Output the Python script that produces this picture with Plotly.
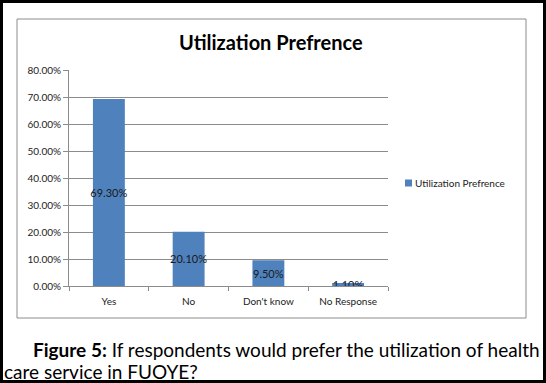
import plotly.graph_objects as go

categories = ["Yes", "No", "Don't know", "No Response"]
values = [69.30, 20.10, 9.50, 1.10]
labels = [f"{v:.2f}%" for v in values]
tick_vals = [0, 10, 20, 30, 40, 50, 60, 70, 80]
tick_text = [f"{v:.2f}%" for v in tick_vals]
series_name = "Utilization Prefrence"
chart_title = "Utilization Prefrence"
caption1 = "<b>Figure 5:</b> If respondents would prefer the utilization of health"
caption2 = "care service in FUOYE?"

W, H = 546, 383
L, R, T, B = 69, 158, 70, 97
PW, PH = W - L - R, H - T - B
BAR_COLOR = "#4F81BD"

def px(x):
    return (x - L) / PW

def py(y):
    return (H - B - y) / PH

FONT = "Lato"

fig = go.Figure()
fig.add_trace(go.Bar(
    x=categories, y=values, name=series_name,
    marker=dict(color=BAR_COLOR, line=dict(width=0)),
    text=labels, textposition="inside", insidetextanchor="middle",
    textangle=0,
    textfont=dict(family=FONT, size=11, color="#1a1a1a"),
    constraintext="none", width=0.4, showlegend=False,
))

shapes = [
    dict(type="rect", xref="paper", yref="paper",
         x0=px(17), x1=px(526), y0=py(318), y1=py(19),
         line=dict(color="#8c8c8c", width=1), fillcolor="rgba(0,0,0,0)", layer="below"),
    dict(type="rect", xref="paper", yref="paper",
         x0=px(1.5), x1=px(544.5), y0=py(381.5), y1=py(1.5),
         line=dict(color="black", width=3), fillcolor="rgba(0,0,0,0)"),
    # legend key
    dict(type="rect", xref="paper", yref="paper",
         x0=px(405), x1=px(412), y0=py(186.5), y1=py(179.5),
         line=dict(width=0), fillcolor=BAR_COLOR),
]

annotations = [
    dict(text="<b>" + chart_title + "</b>", xref="paper", yref="paper", x=px(271), y=py(42),
         xanchor="center", yanchor="middle", showarrow=False,
         font=dict(family=FONT, size=20, color="black")),
    dict(text=series_name, xref="paper", yref="paper", x=px(413), y=py(183),
         xanchor="left", yanchor="middle", showarrow=False,
         font=dict(family=FONT, size=10, color="#222")),
    dict(text=caption1, xref="paper", yref="paper", x=px(31), y=py(349),
         xanchor="left", yanchor="middle", showarrow=False,
         font=dict(family=FONT, size=19, color="black")),
    dict(text=caption2, xref="paper", yref="paper", x=px(2), y=py(371),
         xanchor="left", yanchor="middle", showarrow=False,
         font=dict(family=FONT, size=19, color="black")),
]

fig.update_layout(
    width=W, height=H,
    margin=dict(l=L, r=R, t=T, b=B, pad=0),
    paper_bgcolor="white", plot_bgcolor="white",
    showlegend=False,
    shapes=shapes, annotations=annotations,
)
fig.update_xaxes(
    showline=True, linecolor="#8c8c8c", linewidth=1,
    ticks="outside", tickson="boundaries", ticklen=4, tickcolor="#8c8c8c",
    tickfont=dict(family=FONT, size=10, color="#222"),
    ticklabelstandoff=6,
    showgrid=False, fixedrange=True,
)
fig.update_yaxes(
    range=[0, 80], tickvals=tick_vals, ticktext=tick_text,
    showline=True, linecolor="#8c8c8c", linewidth=1,
    ticks="outside", ticklen=5, tickcolor="#8c8c8c",
    tickfont=dict(family=FONT, size=10, color="#222"),
    showgrid=True, gridcolor="#8c8c8c", gridwidth=1,
    zeroline=False, fixedrange=True,
)

fig.write_html("out.html", config={"displayModeBar": False},
               post_script="document.body.style.margin='0';")
